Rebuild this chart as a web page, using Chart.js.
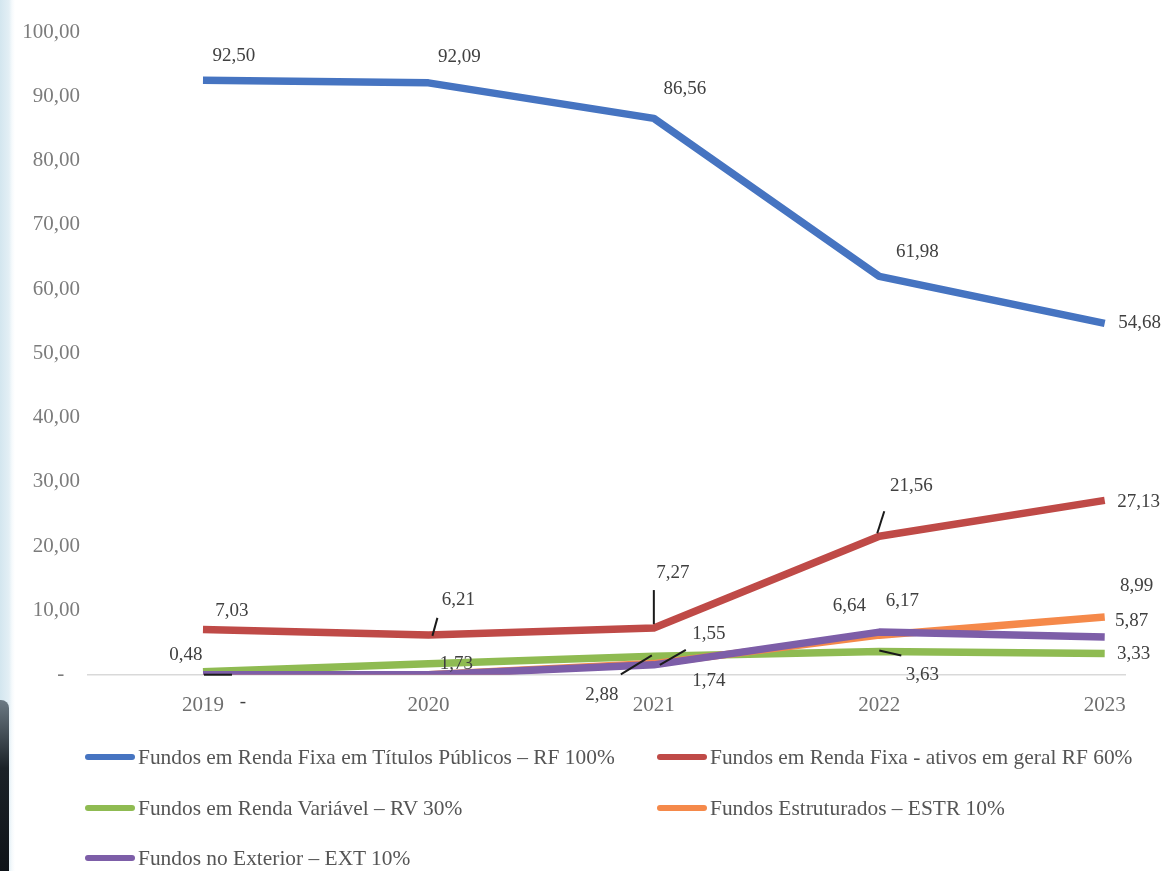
<!DOCTYPE html>
<html>
<head>
<meta charset="utf-8">
<script src="https://cdn.jsdelivr.net/npm/chart.js@4"></script>
<style>
  body { margin: 0; background: #fff; }
  #wrap { position: relative; width: 1164px; height: 871px; overflow: hidden;
    background: linear-gradient(to right, #d3e6ef 0px, #e3eff5 9px, #f6fafc 12px, #ffffff 15px); }
  #edge { position: absolute; left: 0; top: 700px; width: 9px; height: 171px;
    background: linear-gradient(#6c7a84, #1b2228 40%, #0e1318); border-top-right-radius: 8px; }
  canvas { position: absolute; left: 0; top: 0; }
  .item { position: absolute; display: flex; align-items: center; height: 26px;
    font-family: "Liberation Serif", "DejaVu Serif", serif; font-size: 21.4px; color: #555; white-space: nowrap; }
  .item i { display: inline-block; width: 50px; height: 6px; border-radius: 3px; margin-right: 3px; }
</style>
</head>
<body>
<div id="wrap">
  <canvas id="chart" width="1164" height="871"></canvas>
  <div id="edge"></div>
  <div id="legend"></div>
</div>
<script>
const years = ['2019', '2020', '2021', '2022', '2023'];
const seriesNames = [
  'Fundos em Renda Fixa em Títulos Públicos – RF 100%',
  'Fundos em Renda Fixa - ativos em geral RF 60%',
  'Fundos em Renda Variável – RV 30%',
  'Fundos Estruturados – ESTR 10%',
  'Fundos no Exterior – EXT 10%'
];
const rfTitulos = [92.50, 92.09, 86.56, 61.98, 54.68];
const rfGeral = [7.03, 6.21, 7.27, 21.56, 27.13];
const rvVariavel = [0.48, 1.73, 2.88, 3.63, 3.33];
const estruturados = [0, 0, 1.74, 6.17, 8.99];
const exterior = [0, 0, 1.55, 6.64, 5.87];
const colors = ['#4674c1', '#bf4a47', '#8fbb52', '#f5894a', '#7d5ea8'];

// label offsets from each point: [dx, dy] or null (no label)
const labelPos = [
  [[31, -24], [31, -26], [31, -29], [38, -24], [35, 0]],
  [[29, -19], [30, -35], [19, -55], [32, -50], [34, 2]],
  [[-17, -17], [28, 0], [-52, 39], [43, 24], [29, 1]],
  [[40, 27], null, [55, 17], [23, -34], [32, -31]],
  [null, null, [55, -31], [-30, -26], [27, -16]]
];
// leader lines: [dataset, index, x1, y1, x2, y2] relative to the point
const leaders = [
  [1, 1, 4, 1, 9, -17],
  [1, 2, 0, -4, 0, -38],
  [1, 3, -2, -3, 5, -25],
  [2, 0, 1, 3, 29, 3],
  [2, 2, -33, 18, -2, -1],
  [4, 2, 6, 0, 32, -15],
  [2, 3, 0, -1, 22, 4]
];

const allSeries = [rfTitulos, rfGeral, rvVariavel, estruturados, exterior];
const fmt = v => v === 0 ? '-' : v.toFixed(2).replace('.', ',');

const labelPlugin = {
  id: 'pointLabels',
  afterDatasetsDraw(chart) {
    const ctx = chart.ctx;
    ctx.save();
    ctx.strokeStyle = '#1a1a1a';
    ctx.lineWidth = 2;
    leaders.forEach(([d, i, x1, y1, x2, y2]) => {
      const p = chart.getDatasetMeta(d).data[i];
      ctx.beginPath();
      ctx.moveTo(p.x + x1, p.y + y1);
      ctx.lineTo(p.x + x2, p.y + y2);
      ctx.stroke();
    });
    ctx.font = '19px "Liberation Serif", "DejaVu Serif", serif';
    ctx.fillStyle = '#404040';
    ctx.textAlign = 'center';
    ctx.textBaseline = 'middle';
    allSeries.forEach((vals, d) => {
      const meta = chart.getDatasetMeta(d);
      vals.forEach((v, i) => {
        const off = labelPos[d][i];
        if (!off) return;
        const p = meta.data[i];
        ctx.fillText(fmt(v), p.x + off[0], p.y + off[1]);
      });
    });
    ctx.restore();
  }
};

new Chart(document.getElementById('chart'), {
  type: 'line',
  data: {
    datasets: allSeries.map((vals, d) => ({
      label: seriesNames[d],
      data: vals.map((v, i) => ({ x: Number(years[i]), y: v })),
      borderColor: colors[d],
      backgroundColor: colors[d],
      borderWidth: 7.5,
      borderJoinStyle: 'round',
      pointRadius: 0,
      tension: 0,
      order: 5 - d
    }))
  },
  options: {
    responsive: false,
    devicePixelRatio: 1,
    animation: false,
    layout: { padding: { top: 32, right: 39, bottom: 135, left: 0 } },
    plugins: { legend: { display: false }, tooltip: { enabled: false } },
    scales: {
      x: {
        type: 'linear',
        min: 2018.49,
        max: 2023.09,
        grid: { display: false, drawTicks: false },
        border: { display: true, color: '#d9d9d9', width: 1.5 },
        ticks: {
          stepSize: 1,
          includeBounds: false,
          padding: 18,
          maxRotation: 0,
          color: '#6f6f6f',
          font: { family: '"Liberation Serif", "DejaVu Serif", serif', size: 21 },
          callback: v => String(v)
        }
      },
      y: {
        min: 0,
        max: 100,
        afterFit: s => { s.width = 88; },
        grid: { display: false, drawTicks: false },
        border: { display: false },
        ticks: {
          stepSize: 10,
          padding: 8,
          color: '#7c7c7c',
          font: { family: '"Liberation Serif", "DejaVu Serif", serif', size: 21 },
          callback: v => v === 0 ? '-   ' : v.toFixed(2).replace('.', ',')
        }
      }
    }
  },
  plugins: [labelPlugin]
});

// legend in two columns, like the original
const legend = document.getElementById('legend');
const colX = [85, 657];
const rowY = [757, 808, 858];
seriesNames.forEach((name, d) => {
  const el = document.createElement('div');
  el.className = 'item';
  el.style.left = colX[d % 2] + 'px';
  el.style.top = (rowY[Math.floor(d / 2)] - 13) + 'px';
  el.innerHTML = '<i style="background:' + colors[d] + '"></i>';
  el.appendChild(document.createTextNode(name));
  legend.appendChild(el);
});
</script>
</body>
</html>
